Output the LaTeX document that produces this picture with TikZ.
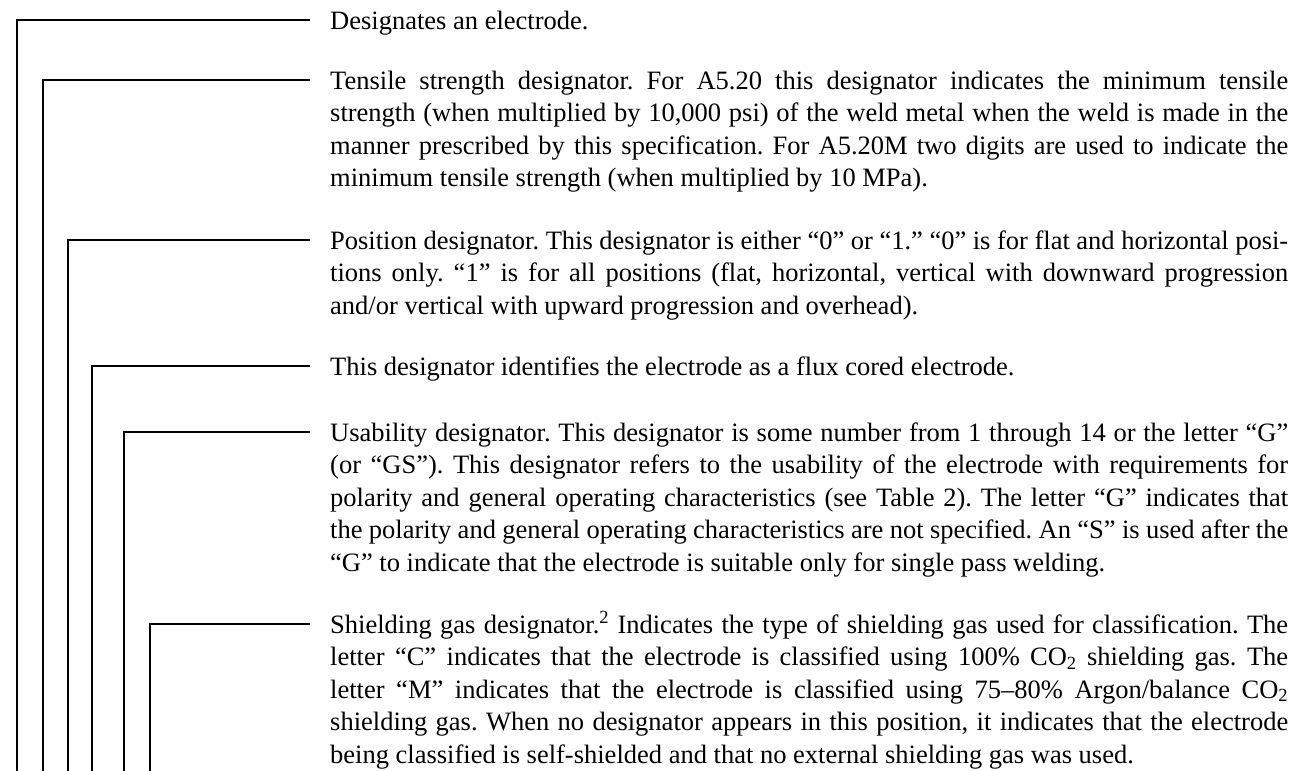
\documentclass[tikz,border=0pt]{standalone}
\usepackage{fontspec}
\setmainfont{Liberation Serif}
\tolerance=9999
\hyphenpenalty=10000
\emergencystretch=20pt
\begin{document}
\frenchspacing
\begin{tikzpicture}[x=1pt,y=1pt,
  txt/.style={anchor=base west, inner sep=0pt, text width=958pt, align=justify,
    font=\fontsize{26.5}{32.6}\selectfont},
  leader/.style={line width=2.2pt, line join=miter}]
\useasboundingbox (0,0) rectangle (1302,-771);
\node[txt] (t1) at (330,-29) {Designates an electrode.};
\node[txt] (t2) at (330,-89) {Tensile strength designator. For A5.20 this designator indicates the minimum tensile\linebreak
strength (when multiplied by 10,000 psi) of the weld metal when the weld is made in the\linebreak
manner prescribed by this specification. For A5.20M two digits are used to indicate the\linebreak
minimum tensile strength (when multiplied by 10 MPa).};
\node[txt] (t3) at (330,-249) {Position designator. This designator is either “0” or “1.” “0” is for flat and horizontal posi-\linebreak
tions only. “1” is for all positions (flat, horizontal, vertical with downward progression\linebreak
and/or vertical with upward progression and overhead).};
\node[txt] (t4) at (330,-375) {This designator identifies the electrode as a flux cored electrode.};
\node[txt] (t5) at (330,-441) {Usability designator. This designator is some number from 1 through 14 or the letter “G”\linebreak
(or “GS”). This designator refers to the usability of the electrode with requirements for\linebreak
polarity and general operating characteristics (see Table 2). The letter “G” indicates that\linebreak
the polarity and general operating characteristics are not specified. An “S” is used after the\linebreak
“G” to indicate that the electrode is suitable only for single pass welding.};
\node[txt] (t6) at (330,-633) {Shielding gas designator.\textsuperscript{2} Indicates the type of shielding gas used for classification. The\linebreak
letter “C” indicates that the electrode is classified using 100\% CO\textsubscript{2} shielding gas. The\linebreak
letter “M” indicates that the electrode is classified using 75–80\% Argon/balance CO\textsubscript{2}\linebreak
shielding gas. When no designator appears in this position, it indicates that the electrode\linebreak
being classified is self-shielded and that no external shielding gas was used.};
\coordinate (b1) at (17,-771);
\coordinate (b2) at (43,-771);
\coordinate (b3) at (68,-771);
\coordinate (b4) at (92,-771);
\coordinate (b5) at (124,-771);
\coordinate (b6) at (150,-771);
\foreach \i in {1,...,6}{
  \draw[leader] (b\i) |- ([xshift=-20pt,yshift=9pt]t\i.base west);
}
\end{tikzpicture}
\end{document}
